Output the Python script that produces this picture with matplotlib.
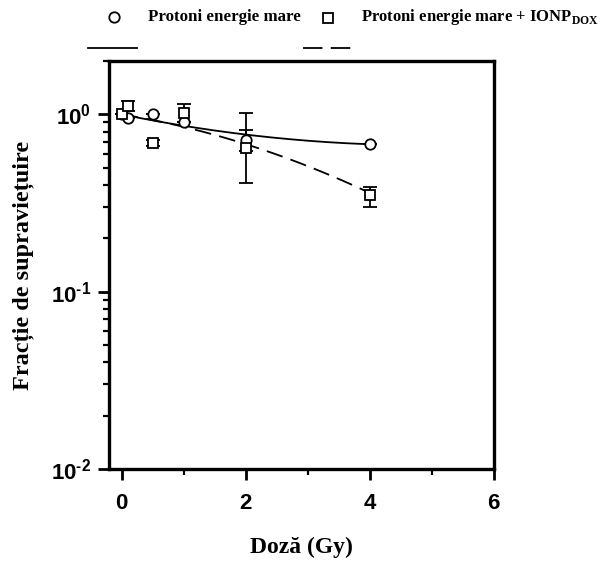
import numpy as np
import matplotlib; matplotlib.use("Agg")
import matplotlib.pyplot as plt
from matplotlib.lines import Line2D
from matplotlib.ticker import FixedLocator, LogLocator, NullFormatter, FuncFormatter

plt.rcParams.update({"font.family": "Liberation Serif", "font.weight": "bold",
                     "mathtext.fontset": "custom", "mathtext.rm": "Liberation Serif:bold",
                     "mathtext.bf": "Liberation Serif:bold", "mathtext.sf": "Liberation Sans:bold",
                     "lines.scale_dashes": False})

# data
dose = [0, 0.1, 0.5, 1, 2, 4]
p_surv = [1.0, 0.96, 1.0, 0.90, 0.72, 0.68]
p_err = [0, 0, 0, 0, 0.10, 0]
pi_surv = [1.0, 1.12, 0.69, 1.02, 0.65, 0.35]
pi_err_lo = [0, 0.07, 0.03, 0.12, 0.24, 0.05]
pi_err_hi = [0, 0.07, 0.03, 0.12, 0.37, 0.04]
# linear-quadratic fit parameters (alpha, beta) estimated from the drawn curves
p_fit = (0.165, -0.017)
pi_fit = (0.131, 0.031)
lab_p = "Protoni energie mare"
lab_pi = r"Protoni energie mare + IONP$_{\mathrm{DOX}}$"

fig = plt.figure(figsize=(6, 5.65), dpi=100)
ax = fig.add_axes([0.182, 0.170, 0.641, 0.722])

dd = np.linspace(0, 4, 200)
ax.plot(dd, np.exp(-p_fit[0]*dd - p_fit[1]*dd**2), color="k", lw=1.3, zorder=2)
ax.plot(dd, np.exp(-pi_fit[0]*dd - pi_fit[1]*dd**2), color="k", lw=1.3, dashes=(12, 6), zorder=2)
ax.errorbar(dose, p_surv, yerr=p_err, fmt="none", ecolor="k", elinewidth=1.3, capsize=5, capthick=1.3, zorder=3)
ax.errorbar(dose, pi_surv, yerr=[pi_err_lo, pi_err_hi], fmt="none", ecolor="k", elinewidth=1.3, capsize=5, capthick=1.3, zorder=3)
ax.plot(dose, p_surv, "o", ms=7.5, mfc="white", mec="k", mew=1.3, ls="none", zorder=4)
ax.plot(dose, pi_surv, "s", ms=7.5, mfc="white", mec="k", mew=1.3, ls="none", zorder=5)

ax.set_yscale("log")
ax.set_ylim(0.01, 2); ax.set_xlim(-0.2, 6)
ax.xaxis.set_major_locator(FixedLocator([0, 2, 4, 6]))
ax.xaxis.set_minor_locator(FixedLocator([1, 3, 5]))
ax.yaxis.set_major_locator(FixedLocator([0.01, 0.1, 1]))
ax.yaxis.set_minor_locator(LogLocator(base=10, subs=np.arange(2, 10)))
ax.yaxis.set_minor_formatter(NullFormatter())
ax.yaxis.set_major_formatter(FuncFormatter(
    lambda v, p: r"$\mathsf{10^{%s}}$" % str(round(np.log10(v))).replace("-", "\u2010")))
for s in ax.spines.values(): s.set_linewidth(2.4)
ax.tick_params(which="major", direction="out", length=8, width=2, top=False, right=False)
ax.tick_params(which="minor", direction="out", length=4, width=1.6, top=False, right=False)
ax.tick_params(axis="x", which="major", pad=9, labelsize=16)
ax.tick_params(axis="y", which="major", pad=5, labelsize=16)
for t in ax.get_xticklabels(): t.set_family("Liberation Sans"); t.set_weight("bold")

ax.set_xlabel("Doză (Gy)", fontsize=17, fontweight="bold", labelpad=17)
ax.set_ylabel("Fracție de supraviețuire", fontsize=17.5, fontweight="bold", labelpad=12)

# legend drawn by hand, as in the original layout
W, Hh = 600, 565
fig.add_artist(Line2D([114/W], [1-17/Hh], marker="o", ms=7.5, mfc="white", mec="k", mew=1.3, transform=fig.transFigure))
fig.add_artist(Line2D([328/W], [1-18/Hh], marker="s", ms=7.5, mfc="white", mec="k", mew=1.3, transform=fig.transFigure))
fig.text(148/W, 1-17/Hh, lab_p, fontsize=12.2, fontweight="bold", va="center")
fig.text(361/W, 1-17/Hh, lab_pi, fontsize=12, fontweight="bold", va="center")
fig.add_artist(Line2D([88/W, 137/W], [1-48/Hh]*2, color="k", lw=1.3, transform=fig.transFigure))
fig.add_artist(Line2D([303/W, 351/W], [1-48/Hh]*2, color="k", lw=1.3, dashes=(14, 6), transform=fig.transFigure))

fig.savefig("out.png", dpi=100)
